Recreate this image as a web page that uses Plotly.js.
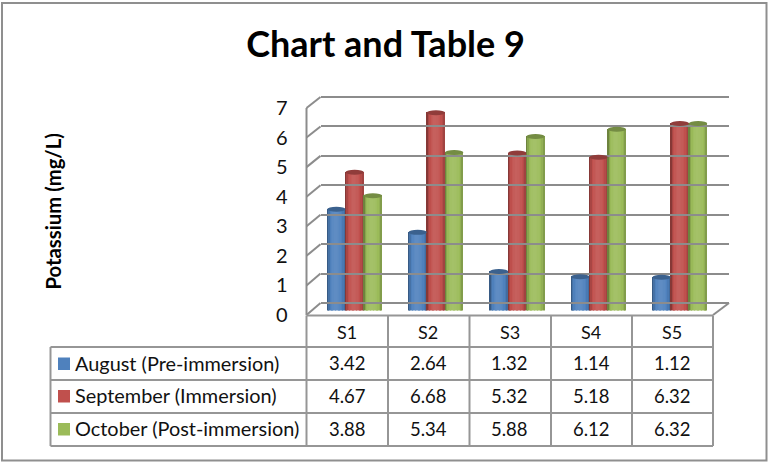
<!DOCTYPE html>
<html><head><meta charset="utf-8">
<script src="https://cdn.plot.ly/plotly-3.0.1.min.js"></script>
<style>html,body{margin:0;padding:0;background:#fff}</style></head>
<body><div id="chart" style="width:769px;height:462px"></div>
<script>
const categories = ["S1","S2","S3","S4","S5"];
const seriesNames = ["August (Pre-immersion)","September (Immersion)","October (Post-immersion)"];
const august = [3.42,2.64,1.32,1.14,1.12];
const september = [4.67,6.68,5.32,5.18,6.32];
const october = [3.88,5.34,5.88,6.12,6.32];
const seriesValues = [august,september,october];
const colors = ["#4f81bd","#c0504d","#9bbb59"];
const valueTicks = [0,1,2,3,4,5,6,7];

const W=769,H=462;
const FONT="Lato, Carlito, 'Open Sans', sans-serif";
const GRID="#8c8c8c", TBL="#969696";
const px=x=>x/W, py=y=>1-y/H;
const BW=0.2245;              // bar width in category units
const E=0.085;                // half-height of cylinder end ellipse, in value units

function mix(hex,t){ // t<0 darken, t>0 lighten
  const n=parseInt(hex.slice(1),16), c=[n>>16,(n>>8)&255,n&255];
  const r=c.map(v=>Math.round(t<0? v*(1+t): v+(255-v)*t));
  return `rgb(${r[0]},${r[1]},${r[2]})`;
}
const idx=categories.map((_,i)=>i);
const traces=[];
// base bars
seriesValues.forEach((vals,s)=>{
  traces.push({type:"bar",x:idx,y:vals,name:seriesNames[s],width:BW,offset:(s-1.5)*BW,
    marker:{color:colors[s],line:{width:0}},xaxis:"x",yaxis:"y",showlegend:false,hoverinfo:"y"});
});
// cylinder shading strips
const shade=[-.3,-.12,-.01,.04,.07,.09,.09,.08,.06,.04,0,-.06,-.16], N=shade.length;
seriesValues.forEach((vals,s)=>{
  for(let k=0;k<N;k++){
    const t=((k+.5)/N)*2-1, e=E*Math.sqrt(1-t*t), w=BW/N;
    traces.push({type:"bar",x:idx,y:vals.map(v=>v+e),base:vals.map(()=>-e),
      width:w*1.06,offset:(s-1.5)*BW+k*w,
      marker:{color:mix(colors[s],shade[k]),line:{width:0}},
      xaxis:"x",yaxis:"y",showlegend:false,hoverinfo:"skip"});
  }
});
// invisible helpers to hold back wall and front label axes
traces.push({type:"scatter",x:[0],y:[0],xaxis:"x2",yaxis:"y2",mode:"none",showlegend:false,hoverinfo:"skip"});
traces.push({type:"scatter",x:categories,y:[0,0,0,0,0],xaxis:"x3",yaxis:"y3",mode:"none",showlegend:false,hoverinfo:"skip"});

const shapes=[], annotations=[];
const line=(x0,y0,x1,y1,c,w,layer)=>shapes.push({type:"line",xref:"paper",yref:"paper",
  x0:px(x0),y0:py(y0),x1:px(x1),y1:py(y1),line:{color:c,width:w},layer:layer||"below"});

// outer frame
shapes.push({type:"rect",xref:"paper",yref:"paper",x0:px(2),y0:py(3),x1:px(766.5),y1:py(460.5),
  line:{color:"#8f8f8f",width:2},fillcolor:"rgba(0,0,0,0)",layer:"below"});

// side wall and floor
const frontX=306.5, backX=320.5, frontR=713, backR=729;
const frontY=v=>315-v*(315-108)/7, backY=v=>303-v*(303-97)/7;
line(frontX,frontY(0),frontX,frontY(7),GRID,2);
valueTicks.forEach(v=>line(frontX,frontY(v),backX,backY(v),GRID,2));
line(frontR,frontY(0),backR,backY(0),GRID,2);

// table grid
const rowY=[315.5,347,380,413,446];
const colX=[50.5,306.5,388,469.5,551,632,713];
colX.forEach((x,i)=>line(x,i==0?rowY[1]:rowY[0],x,rowY[4],TBL,2));
rowY.forEach((y,i)=>line(i==0?colX[1]:colX[0],y,colX[6],y,TBL,2));

// cylinder tops
seriesValues.forEach((vals,s)=>{
  vals.forEach((v,i)=>{
    const x0=i+(s-1.5)*BW;
    shapes.push({type:"circle",xref:"x",yref:"y",x0:x0,x1:x0+BW,y0:v-E,y1:v+E,
      fillcolor:mix(colors[s],-.25),line:{width:0},layer:"above"});
  });
});

// table text
const rowC=[364,396.5,429.5];
seriesNames.forEach((name,s)=>{
  shapes.push({type:"rect",xref:"paper",yref:"paper",x0:px(58),x1:px(70),
    y0:py(rowC[s]-6.5),y1:py(rowC[s]+6),fillcolor:colors[s],line:{width:0}});
  annotations.push({xref:"paper",yref:"paper",x:px(73),y:py(rowC[s]-1.5),text:name,showarrow:false,
    xanchor:"left",yanchor:"middle",font:{family:FONT,size:19.9,color:"#111"}});
  seriesValues[s].forEach((v,i)=>annotations.push({xref:"x3",yref:"paper",x:categories[i],y:py(rowC[s]-1),
    text:v.toFixed(2),showarrow:false,xanchor:"center",yanchor:"middle",
    font:{family:FONT,size:18.5,color:"#111"}}));
});
categories.forEach(c=>annotations.push({xref:"x3",yref:"paper",x:c,y:py(332),text:c,showarrow:false,
  xanchor:"center",yanchor:"middle",font:{family:FONT,size:18,color:"#111"}}));
// y title
annotations.push({xref:"paper",yref:"paper",x:px(52),y:py(211.5),text:"<b>Potassium (mg/L)</b>",textangle:-90,
  showarrow:false,xanchor:"center",yanchor:"middle",font:{family:FONT,size:20.3,color:"#000"}});

const layout={
  width:W,height:H,margin:{l:0,r:0,t:0,b:0,pad:0},paper_bgcolor:"#fff",plot_bgcolor:"rgba(0,0,0,0)",
  barmode:"overlay",bargap:0,showlegend:false,
  title:{text:"<b>Chart and Table 9</b>",x:px(385.5),xanchor:"center",y:py(44),yanchor:"middle",
    font:{family:FONT,size:36,color:"#000"}},
  // bars: shifted with the floor
  xaxis:{domain:[px(frontX+7.5),px(frontR+7.5)],range:[-.5,4.5],showgrid:false,showticklabels:false,zeroline:false,
    showline:false,ticks:"",anchor:"y"},
  yaxis:{domain:[py(310.5),py(310.5-7*29.6)],range:[0,7],showgrid:false,showticklabels:false,zeroline:false,
    showline:false,ticks:"",anchor:"x"},
  // back wall grid (range padded so the 0 and 7 lines are kept)
  xaxis2:{domain:[px(backX),px(backR)],range:[0,1],showgrid:false,showticklabels:false,zeroline:false,ticks:"",anchor:"y2"},
  yaxis2:{domain:[py(backY(-.05)),py(backY(7.05))],range:[-.05,7.05],tickvals:valueTicks,showgrid:true,gridcolor:GRID,gridwidth:2,
    showticklabels:false,zeroline:false,ticks:"",anchor:"x2"},
  // front plane labels
  xaxis3:{domain:[px(frontX),px(frontR)],type:"category",categoryarray:categories,range:[-.5,4.5],
    showgrid:false,showticklabels:false,zeroline:false,ticks:"",anchor:"y3"},
  yaxis3:{domain:[py(frontY(0)),py(frontY(7))],range:[0,7],tickvals:valueTicks,showgrid:false,zeroline:false,
    showticklabels:true,side:"left",ticks:"",anchor:"x3",ticklabelstandoff:18,
    tickfont:{family:FONT,size:20,color:"#111"}},
  shapes,annotations
};
Plotly.newPlot("chart",traces,layout,{displayModeBar:false,responsive:false});
</script></body></html>
